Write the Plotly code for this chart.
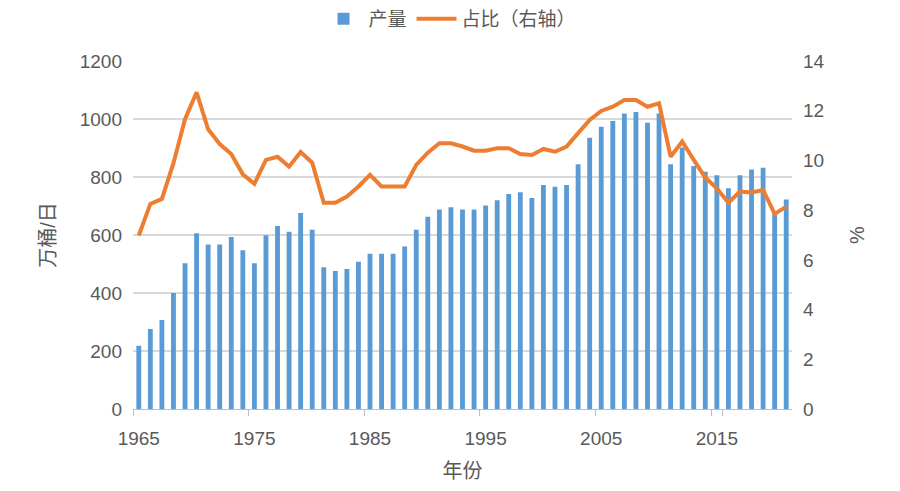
import plotly.graph_objects as go

years = list(range(1965, 2022))
output = [218, 276, 307, 400, 503, 606, 567, 567, 593, 547,
          503, 599, 631, 611, 676, 618, 489, 476, 483, 508,
          535, 535, 535, 560, 618, 663, 688, 696, 688, 688,
          702, 720, 741, 747, 728, 772, 766, 772, 844, 935,
          973, 993, 1019, 1024, 987, 1019, 844, 902, 838, 818,
          806, 761, 806, 826, 832, 682, 722]
share = [6.98, 8.25, 8.45, 9.89, 11.66, 12.74, 11.25, 10.66, 10.26, 9.44,
         9.06, 10.02, 10.15, 9.75, 10.34, 9.91, 8.30, 8.30, 8.55, 8.95,
         9.42, 8.95, 8.95, 8.95, 9.82, 10.31, 10.69, 10.69, 10.56, 10.39,
         10.39, 10.49, 10.49, 10.26, 10.22, 10.46, 10.35, 10.56, 11.1, 11.63,
         11.99, 12.16, 12.43, 12.43, 12.16, 12.30, 10.15, 10.76, 10.02, 9.31,
         8.88, 8.30, 8.75, 8.71, 8.81, 7.85, 8.14]
left_ticks = [0, 200, 400, 600, 800, 1000, 1200]
right_ticks = [0, 2, 4, 6, 8, 10, 12, 14]
x_labels = [1965, 1975, 1985, 1995, 2005, 2015]

FONT = "Liberation Sans, Noto Sans CJK SC, sans-serif"
GRAY = "#595959"

cats = [str(y) for y in years]

fig = go.Figure()
fig.add_trace(go.Bar(x=cats, y=output, name="产量", marker_color="#5B9BD5",
                     marker_line_width=0, yaxis="y"))
fig.add_trace(go.Scatter(x=cats, y=share, name="占比（右轴）", mode="lines",
                         line=dict(color="#ED7D31", width=4), yaxis="y2"))

fig.update_layout(
    width=900, height=491,
    margin=dict(l=133, r=108, t=61, b=82, autoexpand=False),
    paper_bgcolor="white", plot_bgcolor="white",
    font=dict(family=FONT, size=19, color=GRAY),
    bargap=0.58,
    showlegend=True,
    legend=dict(orientation="h", xref="container", yref="container",
                x=0.5, xanchor="center", y=1.0, yanchor="top",
                font=dict(size=19, color=GRAY), itemwidth=40,
                traceorder="normal"),
    xaxis=dict(type="category", tickmode="array",
               tickvals=[str(v) for v in x_labels],
               ticktext=[str(v) for v in x_labels],
               tickangle=0, automargin=False, ticklabelstandoff=12,
               tickson="boundaries", ticks="outside", ticklen=6,
               tickcolor="#BFBFBF", showline=True, linecolor="#BFBFBF",
               linewidth=1, showgrid=False,
               title=dict(text="年份", font=dict(size=20, color=GRAY), standoff=16),
               tickfont=dict(size=19, color=GRAY)),
    yaxis=dict(range=[0, 1200], tickmode="array", tickvals=left_ticks,
               automargin=False, ticklabelstandoff=10,
               showgrid=True, gridcolor="#D9D9D9", gridwidth=1.5,
               zeroline=False, showline=False,
               title=dict(text="万桶/日", font=dict(size=20, color=GRAY), standoff=18),
               tickfont=dict(size=19, color=GRAY)),
    yaxis2=dict(range=[0, 14], tickmode="array", tickvals=right_ticks,
                automargin=False, ticklabelstandoff=10,
                overlaying="y", side="right", showgrid=False, zeroline=False,
                title=dict(text="%", font=dict(size=20, color=GRAY), standoff=26),
                tickfont=dict(size=19, color=GRAY)),
)

fig.write_html("out.html")
